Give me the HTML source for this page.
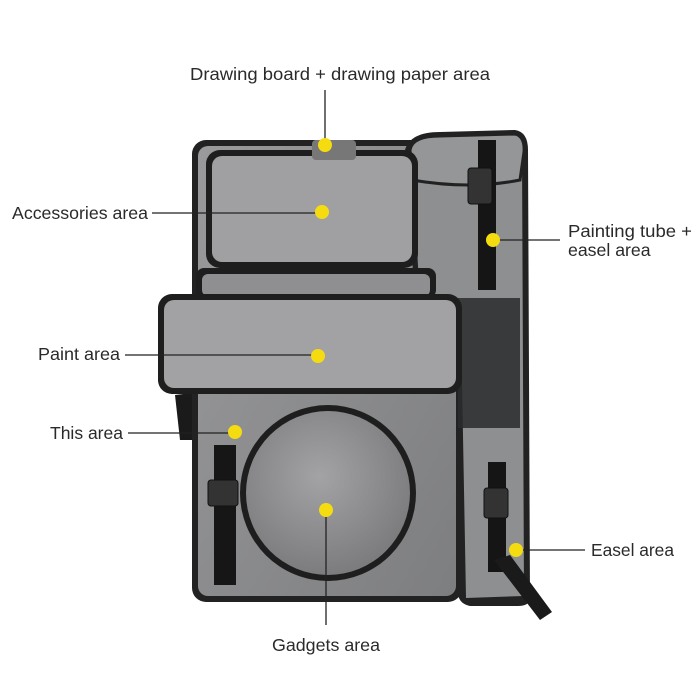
<!DOCTYPE html>
<html><head><meta charset="utf-8"><style>
html,body{margin:0;padding:0;background:#fff;width:700px;height:700px;overflow:hidden}
svg{display:block}
text{font-family:"Liberation Sans",sans-serif;font-size:17.7px;fill:#2a2a2a}
</style></head><body>
<svg width="700" height="700" viewBox="0 0 700 700">
<defs>
<linearGradient id="g" x1="0" y1="0" x2="1" y2="1"><stop offset="0" stop-color="#9a9a9c"/><stop offset="1" stop-color="#7d7e80"/></linearGradient>
<radialGradient id="c" cx="0.45" cy="0.4" r="0.6"><stop offset="0" stop-color="#a3a3a5"/><stop offset="1" stop-color="#7c7c7e"/></radialGradient>
</defs>
<path d="M175 395 L200 392 L205 440 L180 440 Z" fill="#1a1a1a"/>
<rect x="192" y="140" width="270" height="462" rx="14" fill="#222"/>
<rect x="198" y="146" width="258" height="450" rx="10" fill="url(#g)"/>
<path d="M405 150 Q410 132 440 132 L515 130 Q528 132 528 150 L530 600 Q528 606 518 606 L470 606 Q460 604 458 595 L456 380 L420 380 Z" fill="#222"/>
<path d="M412 152 Q415 138 440 138 L512 136 Q522 138 522 152 L524 596 L466 598 L462 382 L424 380 Z" fill="#8e8f91"/>
<path d="M410 150 Q412 136 440 136 L515 134 Q525 136 524 152 L520 180 Q470 190 412 180 Z" fill="#959698" stroke="#222" stroke-width="3"/>
<rect x="458" y="298" width="62" height="130" fill="#2a2b2d" opacity="0.85"/>
<rect x="478" y="140" width="18" height="150" fill="#151515"/>
<rect x="468" y="168" width="24" height="36" rx="3" fill="#333" stroke="#111"/>
<rect x="488" y="462" width="18" height="110" fill="#151515"/>
<path d="M494 560 L540 620 L552 612 L510 555 Z" fill="#1a1a1a"/>
<rect x="484" y="488" width="24" height="30" rx="3" fill="#333" stroke="#111"/>
<rect x="206" y="150" width="212" height="118" rx="14" fill="#1e1e1e"/>
<rect x="212" y="156" width="200" height="106" rx="10" fill="#a0a0a2"/>
<rect x="312" y="140" width="44" height="20" rx="4" fill="#777"/>
<rect x="196" y="268" width="240" height="30" rx="8" fill="#1e1e1e"/>
<rect x="202" y="274" width="228" height="22" rx="6" fill="#8f8f91"/>
<rect x="158" y="294" width="304" height="100" rx="14" fill="#1e1e1e"/>
<rect x="164" y="300" width="292" height="88" rx="10" fill="#a2a2a4"/>
<rect x="214" y="445" width="22" height="140" fill="#161616"/>
<rect x="208" y="480" width="30" height="26" rx="3" fill="#333" stroke="#111"/>
<circle cx="328" cy="493" r="88" fill="#1e1e1e"/>
<circle cx="328" cy="493" r="82" fill="url(#c)"/>
<g stroke="#222" stroke-width="1.3">
<line x1="325" y1="90" x2="325" y2="145"/>
<line x1="152" y1="213" x2="322" y2="213"/>
<line x1="493" y1="240" x2="560" y2="240"/>
<line x1="125" y1="355" x2="318" y2="355"/>
<line x1="128" y1="433" x2="235" y2="433"/>
<line x1="516" y1="550" x2="585" y2="550"/>
<line x1="326" y1="510" x2="326" y2="625"/>
</g>
<g fill="#f5dc10">
<circle cx="325" cy="145" r="7"/>
<circle cx="322" cy="212" r="7"/>
<circle cx="493" cy="240" r="7"/>
<circle cx="318" cy="356" r="7"/>
<circle cx="235" cy="432" r="7"/>
<circle cx="516" cy="550" r="7"/>
<circle cx="326" cy="510" r="7"/>
</g>
<text x="190" y="80" textLength="300" lengthAdjust="spacingAndGlyphs">Drawing board + drawing paper area</text>
<text x="12" y="219" textLength="136" lengthAdjust="spacingAndGlyphs">Accessories area</text>
<text x="568" y="237" textLength="124" lengthAdjust="spacingAndGlyphs">Painting tube +</text>
<text x="568" y="256">easel area</text>
<text x="38" y="360" textLength="82" lengthAdjust="spacingAndGlyphs">Paint area</text>
<text x="50" y="439" textLength="73" lengthAdjust="spacingAndGlyphs">This area</text>
<text x="591" y="556" textLength="83" lengthAdjust="spacingAndGlyphs">Easel area</text>
<text x="272" y="651" textLength="108" lengthAdjust="spacingAndGlyphs">Gadgets area</text>
</svg>
</body></html>
